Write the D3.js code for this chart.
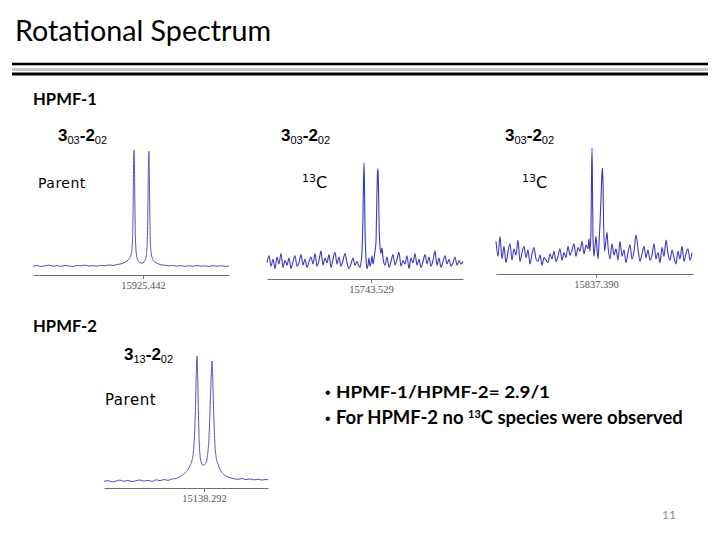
<!DOCTYPE html>
<html>
<head>
<meta charset="utf-8">
<script src="https://cdn.jsdelivr.net/npm/d3@7"></script>
<style>
body { margin: 0; background: #fff; }
svg { display: block; background: #fff; }
</style>
</head>
<body>
<svg id="slide" width="720" height="540"></svg>
<script>
// spectra: [offset from the marked line, intensity]
var parent1 = [[-110,7.0],[-106,7.6],[-102,6.8],[-98,7.4],[-94,7.9],[-90,7.0],[-86,7.5],[-82,6.9],[-78,7.7],[-74,7.2],[-70,6.8],[-66,7.6],[-62,7.3],[-58,7.9],[-54,7.1],[-50,7.5],[-46,7.0],[-42,7.8],[-38,7.4],[-34,8.0],[-30,7.6],[-26,8.4],[-22,8.9],[-19,9.8],[-16,11.2],[-14,12.8],[-12.5,15],[-11.5,18],[-10.5,28],[-10,45],[-9.6,75],[-9.3,95],[-9,100],[-8.7,96],[-8.4,78],[-8,50],[-7.5,28],[-6.5,16],[-5,11.5],[-3,9.8],[-1,9.5],[1,10.5],[2.5,13],[3.5,17],[4.3,28],[4.8,48],[5.2,76],[5.5,94],[5.8,99],[6.1,95],[6.4,78],[6.8,50],[7.3,28],[8.3,17],[9.8,12.5],[12,10.2],[15,9],[18,8.2],[22,7.8],[26,7.3],[30,7.6],[34,7.1],[38,7.5],[42,6.9],[46,7.4],[50,7.0],[54,7.6],[58,7.1],[62,7.3],[66,6.8],[70,7.5],[74,7.0],[78,7.4],[82,6.9],[86,7.2]];

var carbon13a = [[-104,14],[-102,20],[-100,11],[-98,17],[-96,9],[-94,19],[-92,13],[-90,22],[-88,10],[-86,16],[-84,12],[-82,18],[-80,9],[-78,15],[-76,20],[-74,11],[-72,14],[-70,21],[-68,12],[-66,17],[-64,10],[-62,15],[-60,19],[-58,13],[-56,22],[-54,11],[-52,16],[-50,24],[-48,12],[-46,18],[-44,14],[-42,21],[-40,10],[-38,17],[-36,23],[-34,13],[-32,19],[-30,11],[-28,16],[-26,22],[-24,14],[-22,9],[-20,13],[-18,18],[-16,12],[-14,15],[-12,11],
  [-11,10],[-10,14],[-9,24],[-8,55],[-7.5,85],[-7,100],[-6.5,80],[-6,45],[-5,18],[-4,9],[-3,12],[-2,18],[-1,11],[0,14],[1,20],[2,13],[3,17],[4,24],[5,32],[5.5,52],[6,76],[6.5,92],[7,95],[7.5,80],[8,50],[9,28],[10,22],[11,27],[12,18],[14,12],
  [16,19],[18,10],[20,15],[22,21],[24,12],[26,17],[28,23],[30,11],[32,16],[34,13],[36,20],[38,9],[40,18],[42,14],[44,22],[46,12],[48,17],[50,10],[52,15],[54,21],[56,13],[58,19],[60,11],[62,16],[64,24],[66,12],[68,18],[70,10],[72,15],[74,20],[76,13],[78,17],[80,11],[82,14],[84,19],[86,12],[88,16],[90,13],[92,15]];

var carbon13b = [[-100,26],[-98,14],[-96,30],[-94,12],[-92,22],[-90,9],[-88,18],[-86,24],[-84,11],[-82,20],[-80,15],[-78,27],[-76,10],[-74,17],[-72,22],[-70,13],[-68,19],[-66,8],[-64,16],[-62,21],[-60,12],[-58,10],[-56,15],[-54,7],[-52,13],[-50,11],[-48,9],[-46,16],[-44,12],[-42,18],[-40,10],[-38,14],[-36,20],[-34,11],[-32,17],[-30,13],[-28,22],[-26,15],[-24,19],[-22,24],[-20,14],[-18,21],[-16,18],[-14,26],[-12,16],[-10,23],[-8,20],
  [-7,28],[-6,18],[-5,36],[-4.5,75],[-4,100],[-3.5,70],[-3,30],[-2,14],[-1,22],[0,30],[1,20],[2,12],[3,24],[4,40],[5,60],[6,80],[6.5,84],[7,72],[7.5,45],[8.5,18],[10,27],[11,33],[12,22],[14,12],
  [16,24],[18,15],[20,20],[22,11],[24,26],[26,14],[28,19],[30,9],[32,17],[34,23],[36,12],[38,18],[40,31],[42,20],[44,10],[46,16],[48,22],[50,13],[52,19],[54,11],[56,15],[58,24],[60,12],[62,17],[64,9],[66,21],[68,14],[70,27],[72,16],[74,11],[76,19],[78,13],[80,8],[82,18],[84,12],[86,22],[88,10],[90,16],[92,20],[94,11],[96,17]];

var parent2 = [[-100,5.0],[-96,5.6],[-92,4.6],[-88,5.3],[-84,6.0],[-80,5.1],[-76,5.7],[-72,4.9],[-68,5.5],[-64,6.1],[-60,5.2],[-56,5.8],[-52,5.0],[-48,6.2],[-44,5.6],[-40,6.4],[-36,5.8],[-32,6.8],[-28,7.2],[-25,8.2],[-22,9.5],[-19,11.5],[-16,14],[-14,17],[-12,21],[-10.5,28],[-9.5,40],[-8.5,62],[-7.8,85],[-7.3,97],[-7,100],[-6.7,96],[-6.2,80],[-5.5,55],[-4.8,35],[-4,25],[-3,20],[-1.5,17.5],[0,17.4],[1.5,18.5],[3,22],[4,28],[5,38],[6,58],[7,80],[7.6,92],[8,96.2],[8.4,92],[9,76],[10,50],[11,32],[12,24],[14,18],[16,14],[19,11],[22,9],[26,7.8],[30,7.0],[34,6.6],[38,7.2],[42,6.3],[46,6.9],[50,6.1],[54,6.7],[58,6.0],[62,6.5],[64,6.2]];

var tickLabels = ["15925.442", "15743.529", "15837.390", "15138.292"];
var transitions = [["3","03","2","02"], ["3","03","2","02"], ["3","03","2","02"], ["3","13","2","02"]];
var species = ["Parent", "13C", "13C", "Parent"];

function SpectrumPanel(svg, data, opts){
    var self = this;
    self.svg = svg;
    self.data = data;
    self.opts = opts;
    self.init();
};

SpectrumPanel.prototype.init = function(){
    var self = this;
    var o = self.opts;
    self.x = d3.scaleLinear().domain(o.domain).range([o.x0, o.x1]);
    self.y = d3.scaleLinear().domain([0, 100]).range([o.axisY, o.topY]);
    self.g = self.svg.append("g").attr("class", "spectrum");
};

SpectrumPanel.prototype.draw = function(){
    var self = this;
    var o = self.opts;

    let axis = d3.axisBottom(self.x)
        .tickValues([0])
        .tickFormat(function(){ return o.tick; })
        .tickSize(4)
        .tickSizeOuter(0);

    let ax = self.g.append("g")
        .attr("transform", `translate(0,${o.axisY})`)
        .call(axis);
    ax.select(".domain").attr("stroke", "#6e6e6e").attr("stroke-width", 1.2);
    ax.selectAll(".tick line").attr("stroke", "#6e6e6e");
    ax.selectAll(".tick text")
        .attr("font-family", "Liberation Serif, serif")
        .attr("font-size", 10.5)
        .attr("fill", "#555");

    let line = d3.line()
        .x(function(d){ return self.x(d[0]); })
        .y(function(d){ return self.y(d[1]); })
        .curve(d3.curveMonotoneX);

    self.g.append("path")
        .datum(self.data)
        .attr("d", line)
        .attr("fill", "none")
        .attr("stroke", o.color)
        .attr("stroke-width", o.width)
        .attr("stroke-linejoin", "round");
};

SpectrumPanel.prototype.addLabels = function(trans, sp){
    var self = this;
    var o = self.opts;
    let t = self.svg.append("text")
        .attr("x", o.labelX).attr("y", o.labelY)
        .attr("font-family", "Liberation Sans, Arial, sans-serif")
        .attr("fill", "#000");
    t.append("tspan").attr("font-size", 17).attr("font-weight", "bold").text(trans[0]);
    t.append("tspan").attr("font-size", 11).attr("dy", 3).text(trans[1]);
    t.append("tspan").attr("font-size", 17).attr("font-weight", "bold").attr("dy", -3).text("-" + trans[2]);
    t.append("tspan").attr("font-size", 11).attr("dy", 3).text(trans[3]);

    let s = self.svg.append("text")
        .attr("x", o.spX).attr("y", o.spY)
        .attr("font-family", "DejaVu Sans, sans-serif")
        .attr("fill", "#000");
    if (sp === "13C") {
        s.append("tspan").attr("font-size", 11).attr("dy", -6).text("13");
        s.append("tspan").attr("font-size", 16).attr("dy", 6).text("C");
    } else {
        s.attr("font-size", o.spSize).attr("letter-spacing", 0.5).text(sp);
    }
};

var svg = d3.select("#slide");

// slide title and rules
svg.append("text").attr("x", 15).attr("y", 41)
    .attr("font-family", "Lato, sans-serif").attr("font-size", 28)
    .attr("textLength", 256).attr("lengthAdjust", "spacingAndGlyphs")
    .text("Rotational Spectrum");
svg.append("line").attr("x1", 12).attr("x2", 708).attr("y1", 64).attr("y2", 64).attr("stroke", "#000").attr("stroke-width", 2.5);
svg.append("line").attr("x1", 12).attr("x2", 708).attr("y1", 69.5).attr("y2", 69.5).attr("stroke", "#c8c8c8").attr("stroke-width", 3);
svg.append("line").attr("x1", 12).attr("x2", 708).attr("y1", 74).attr("y2", 74).attr("stroke", "#000").attr("stroke-width", 3);

svg.append("text").attr("x", 33).attr("y", 105)
    .attr("font-family", "Lato, sans-serif").attr("font-weight", "bold").attr("font-size", 17)
    .attr("textLength", 64).attr("lengthAdjust", "spacingAndGlyphs").text("HPMF-1");
svg.append("text").attr("x", 33).attr("y", 332)
    .attr("font-family", "Lato, sans-serif").attr("font-weight", "bold").attr("font-size", 17)
    .attr("textLength", 64).attr("lengthAdjust", "spacingAndGlyphs").text("HPMF-2");

var layouts = [
    {domain: [-110, 86], x0: 33, x1: 229, axisY: 275, topY: 150, color: "#5555bb", width: 1,
     labelX: 58, labelY: 141, spX: 38, spY: 188, spSize: 14},
    {domain: [-104, 92], x0: 267, x1: 463, axisY: 279, topY: 163, color: "#3a3ab8", width: 1.1,
     labelX: 281, labelY: 141, spX: 302, spY: 188},
    {domain: [-100, 97], x0: 496, x1: 693, axisY: 274, topY: 148, color: "#3a3ab8", width: 1.1,
     labelX: 505, labelY: 141, spX: 522, spY: 188},
    {domain: [-100, 64], x0: 104, x1: 268, axisY: 488, topY: 356, color: "#5555bb", width: 1,
     labelX: 124, labelY: 360, spX: 105, spY: 405, spSize: 15}
];
var spectra = [parent1, carbon13a, carbon13b, parent2];

spectra.forEach(function(d, i){
    layouts[i].tick = tickLabels[i];
    var p = new SpectrumPanel(svg, d, layouts[i]);
    p.draw();
    p.addLabels(transitions[i], species[i]);
});

// bullet notes
[398, 424].forEach(function(y){
    svg.append("text").attr("x", 325).attr("y", y)
        .attr("font-family", "Liberation Sans, sans-serif").attr("font-size", 16)
        .text("\u2022");
});
svg.append("text").attr("x", 336).attr("y", 398)
    .attr("font-family", "Lato, sans-serif").attr("font-weight", "bold").attr("font-size", 17)
    .attr("textLength", 214).attr("lengthAdjust", "spacingAndGlyphs")
    .text("HPMF-1/HPMF-2= 2.9/1");
var b2 = svg.append("text").attr("x", 336).attr("y", 424)
    .attr("font-family", "Lato, sans-serif").attr("font-weight", "bold").attr("font-size", 17);
b2.append("tspan").text("For HPMF-2 no ");
b2.append("tspan").attr("font-size", 11).attr("dy", -6).text("13");
b2.append("tspan").attr("dy", 6).text("C species were observed");
var w = b2.node().getComputedTextLength();
b2.attr("font-size", 17 * 348 / w);

svg.append("text").attr("x", 676).attr("y", 519).attr("text-anchor", "end")
    .attr("font-family", "Lato, sans-serif").attr("font-size", 12).attr("fill", "#8a8a8a")
    .text("11");
</script>
</body>
</html>
